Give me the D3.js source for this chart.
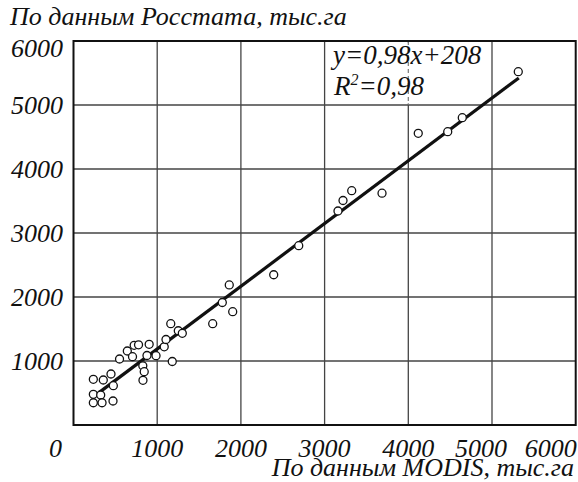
<!DOCTYPE html>
<html><head><meta charset="utf-8">
<script src="https://cdn.jsdelivr.net/npm/d3@7"></script>
<style>body{margin:0;background:#fff}svg{display:block}</style>
</head><body><svg id="c" width="578" height="482"></svg>
<script>
// Data (thousand ha): MODIS (x) vs Rosstat (y)
const modis = [237,356,448,476,237,325,237,341,472,550,643,705,725,777,904,878,986,828,845,830,1084,1105,1162,1252,1300,1180,1663,1778,1861,1902,2392,2691,3160,3220,3324,3686,4119,4471,4645,5314];
const rosstat = [714,703,797,614,480,469,348,348,375,1031,1156,1067,1245,1253,1261,1086,1083,925,833,698,1222,1336,1583,1473,1433,992,1583,1914,2188,1770,2348,2802,3344,3508,3661,3622,4558,4583,4802,5520];
const ticks = [0,1000,2000,3000,4000,5000,6000];
const slope = 0.98, intercept = 208, r2 = "0,98";
const fitRange = [300, 5320];
const yTitle = "По данным Росстата, тыс.га";
const xTitle = "По данным MODIS, тыс.га";
const eqText = "y=0,98x+208";

const FONT = "Liberation Serif";
const FS = 26;
const svg = d3.select("#c");
const x = d3.scaleLinear().domain([0,6000]).range([73.5,575.7]);
const y = d3.scaleLinear().domain([0,6000]).range([425,41]);

function txt(sel){ return sel.attr("font-family",FONT).attr("font-style","italic").attr("font-size",FS).attr("fill","#111"); }

// grid
const g = svg.append("g");
g.selectAll(".vx").data(ticks.slice(1,-1)).join("line")
  .attr("x1",d=>x(d)).attr("x2",d=>x(d)).attr("y1",y(6000)).attr("y2",y(0))
  .attr("stroke","#444").attr("stroke-width",1.3);
g.selectAll(".hy").data(ticks.slice(1,-1)).join("line")
  .attr("y1",d=>y(d)).attr("y2",d=>y(d)).attr("x1",x(0)).attr("x2",x(6000))
  .attr("stroke","#444").attr("stroke-width",1.3);

// equation box (covers grid partially)
svg.append("rect").attr("x",331).attr("y",y(6000)+1.5).attr("width",158).attr("height",y(5000)-y(6000)-3).attr("fill","#fff");
svg.append("line").attr("x1",x(4000)).attr("x2",x(4000)).attr("y1",y(6000)).attr("y2",y(5000))
  .attr("stroke","#777").attr("stroke-width",1.2).attr("stroke-dasharray","4,3");

// frame
svg.append("rect").attr("x",x(0)).attr("y",y(6000)).attr("width",x(6000)-x(0)).attr("height",y(0)-y(6000))
  .attr("fill","none").attr("stroke","#111").attr("stroke-width",2);

// y tick labels
svg.selectAll(".yl").data(ticks.slice(1)).join("text").call(txt)
  .attr("x",63).attr("y",d=>y(d)+ (d===6000?16:9))
  .attr("text-anchor","end").text(d=>d);

// x tick labels (nudged like the original to avoid overlap)
const nudge = {0:-18,5000:-11,6000:-25};
svg.selectAll(".xl").data(ticks).join("text").call(txt)
  .attr("x",d=>x(d)+(nudge[d]||0)).attr("y",457)
  .attr("text-anchor","middle").text(d=>d);

// titles
svg.append("text").call(txt).attr("x",10).attr("y",25).text(yTitle);
svg.append("text").call(txt).attr("x",574).attr("y",476).attr("text-anchor","end").text(xTitle);

// equation
svg.append("text").call(txt).attr("x",333).attr("y",64).attr("font-size",27).text(eqText);
const t2 = svg.append("text").call(txt).attr("x",334).attr("y",95).attr("font-size",27);
t2.append("tspan").text("R");
t2.append("tspan").attr("font-size",16).attr("dy",-10).text("2");
t2.append("tspan").attr("dy",10).text("="+r2);

// regression line
svg.append("line")
  .attr("x1",x(fitRange[0])).attr("y1",y(slope*fitRange[0]+intercept))
  .attr("x2",x(fitRange[1])).attr("y2",y(slope*fitRange[1]+intercept))
  .attr("stroke","#111").attr("stroke-width",3.2);

// points
svg.selectAll(".pt").data(modis.map((m,i)=>[m,rosstat[i]])).join("circle")
  .attr("cx",d=>x(d[0])).attr("cy",d=>y(d[1])).attr("r",4)
  .attr("fill","#fff").attr("stroke","#111").attr("stroke-width",1.3);
</script></body></html>
